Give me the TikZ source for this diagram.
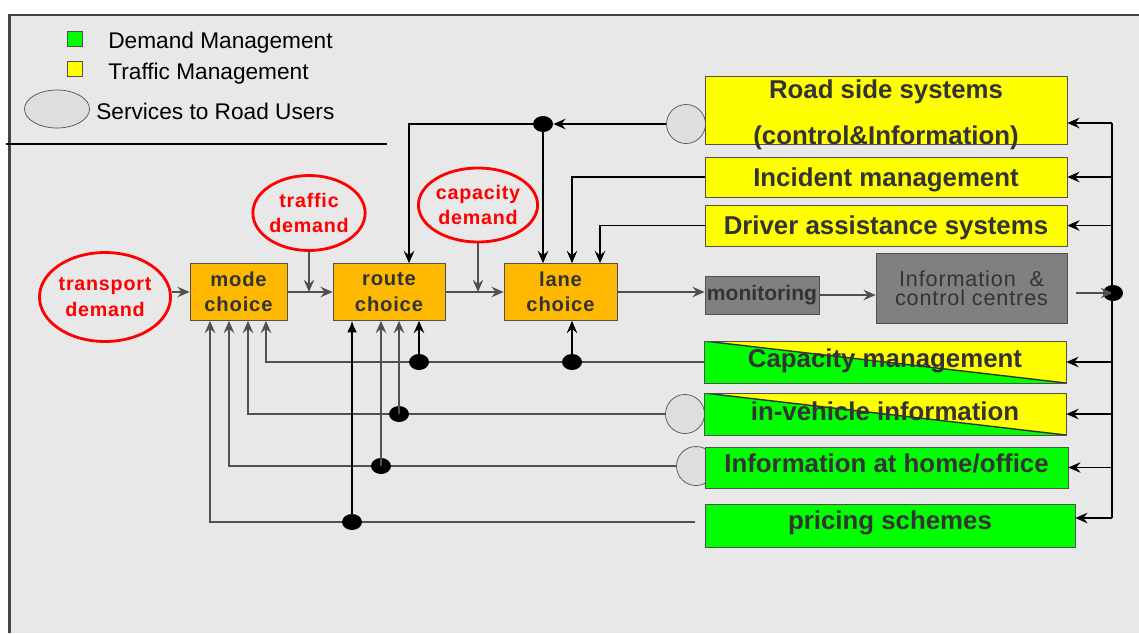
\documentclass[tikz,border=0pt]{standalone}
\usepackage{fontspec}
\setmainfont{Liberation Sans}
\newfontfamily\spacedfont[LetterSpace=4]{Liberation Sans}
\usetikzlibrary{arrows.meta,calc,positioning,shapes.geometric}
\definecolor{bgGray}{HTML}{E8E8E8}
\definecolor{frameGray}{HTML}{444444}
\definecolor{lineGray}{HTML}{505050}
\definecolor{textGray}{HTML}{333333}
\definecolor{choiceOrange}{HTML}{FFB800}
\definecolor{tmYellow}{HTML}{FFFF00}
\definecolor{dmGreen}{HTML}{00FF00}
\definecolor{centreGray}{HTML}{808080}
\definecolor{serviceGray}{HTML}{DEDEDE}

\begin{document}
\begin{tikzpicture}[x=0.02cm,y=-0.02cm,
        arrowLine/.style = {draw=lineGray,line width=0.9pt,-{Stealth[length=7pt,width=6pt,inset=2.5pt]}},
        blackLine/.style = {arrowLine,draw=black},
        solidArrow/.style = {draw=black,line width=0.9pt,-{Latex[length=6.5pt,width=5.5pt]}},
        choiceNode/.style = {draw=lineGray,fill=choiceOrange,text=textGray,align=center,inner sep=0pt,minimum height=1.14cm,font=\spacedfont\bfseries\fontsize{11.5}{14.5}\selectfont},
        demandNode/.style = {ellipse,draw=red,line width=1.6pt,text=red,align=center,inner sep=0pt,font=\spacedfont\bfseries\fontsize{11.2}{14.5}\selectfont},
        yellowNode/.style = {draw=lineGray,fill=tmYellow,text=textGray,inner sep=0pt,minimum width=7.24cm,text height=10.5pt,text depth=0pt,font=\bfseries\fontsize{14.7}{17}\selectfont},
        greenNode/.style = {yellowNode,fill=dmGreen},
        splitNode/.style = {yellowNode,fill=none,path picture={
            \fill[dmGreen] (path picture bounding box.north west) -- (path picture bounding box.south east) -- (path picture bounding box.south west) -- cycle;
            \fill[tmYellow] (path picture bounding box.north west) -- (path picture bounding box.north east) -- (path picture bounding box.south east) -- cycle;
            \draw[textGray,line width=0.8pt] (path picture bounding box.north west) -- (path picture bounding box.south east);}},
        grayNode/.style = {draw=lineGray,fill=centreGray,text=textGray,inner sep=0pt},
        serviceNode/.style = {circle,draw=lineGray,fill=serviceGray,minimum size=0.78cm,inner sep=0pt},
        dotNode/.style = {ellipse,fill=black,minimum width=0.4cm,minimum height=0.32cm,inner sep=0pt},
        keyNode/.style = {draw=lineGray,fill=#1,minimum size=0.3cm,inner sep=0pt},
        keyText/.style = {anchor=west,inner sep=0pt,font=\fontsize{12.9}{15}\selectfont}
        ]
    \useasboundingbox (0,0) rectangle (1139,633);
    \fill[bgGray] (9.5,15) rectangle (1139,633);
    \draw[frameGray,line width=1.7pt] (9.5,633) -- (9.5,15) -- (1139,15);

    \node[keyNode=dmGreen] (dmKey) at (75,39) {};
    \node[keyText] (dmText) at (108,43) {Demand Management};
    \node[keyNode=tmYellow] (tmKey) at (75,69) {};
    \node[keyText] (tmText) at (108,74) {Traffic Management};
    \node[ellipse,draw=lineGray,fill=serviceGray,minimum width=1.3cm,minimum height=0.76cm] (srvKey) at (57,109) {};
    \node[keyText] (srvText) at (96,111) {Services to Road Users};
    \draw[black,line width=0.7pt] (6,144) -- (387,144);

    \node[serviceNode] (rsCircle) at (686,124) {};
    \node[serviceNode] (invCircle) at (685,414) {};
    \node[serviceNode] (homeCircle) at (696,466) {};

    \node[demandNode,minimum width=2.32cm,minimum height=1.78cm] (transport) at (105,297) {transport\\demand};
    \node[demandNode,minimum width=2.12cm,minimum height=1.5cm] (traffic) at (309,213) {traffic\\demand};
    \node[demandNode,minimum width=2.04cm,minimum height=1.48cm] (capacity) at (478,205) {capacity\\demand};
    \node[choiceNode,minimum width=1.94cm] (mode) at (238.5,292) {mode\\choice};
    \node[choiceNode,minimum width=2.24cm] (route) at (389,292) {route\\choice};
    \node[choiceNode,minimum width=2.26cm] (lane) at (560.5,292) {lane\\choice};
    \node[grayNode,minimum width=2.28cm,minimum height=0.76cm,font=\bfseries\fontsize{12}{14}\selectfont] (monitoring) at (762,295) {monitoring};
    \node[grayNode,minimum width=3.82cm,minimum height=1.4cm,align=center,font=\spacedfont\fontsize{12.3}{10.8}\selectfont] (centres) at (971.5,288) {Information \ \&\\control centres};
    \node[dotNode] (busDot) at (1113,293) {};

    \node[yellowNode,minimum height=1.34cm,align=center,text height=39pt,font=\bfseries\fontsize{14.7}{26.6}\selectfont] (roadSide) at (886,110.5) {Road side systems\\(control\&Information)};
    \node[yellowNode,minimum height=0.8cm] (incident) at (886,177) {Incident management};
    \node[yellowNode,minimum height=0.82cm,text depth=-1pt] (driver) at (886,225.5) {Driver assistance systems};
    \node[splitNode,minimum height=0.84cm,text depth=4pt] (capMgmt) at (885,362) {Capacity management};
    \node[splitNode,minimum height=0.84cm,text depth=3pt] (inVehicle) at (885,414) {in-vehicle information};
    \node[greenNode,minimum width=7.26cm,minimum height=0.82cm,text depth=4.5pt] (homeOffice) at (886.5,467.5) {Information at home/office};
    \node[greenNode,minimum width=7.4cm,minimum height=0.86cm,text depth=6pt] (pricing) at (890,525.5) {pricing schemes};

    \coordinate (busTop) at (1112,123);
    \coordinate (busBottom) at (1112,518);
    \coordinate (priceStart) at (695,522);

    \draw[arrowLine] (mode.west -| transport.east) -- (mode.west);
    \draw[arrowLine] (mode.east) -- (route.west);
    \draw[arrowLine] (route.east) -- (lane.west);
    \draw[arrowLine] (traffic.south) -- (traffic.south |- mode.east);
    \draw[arrowLine] (capacity.south) -- (capacity.south |- route.east);
    \draw[arrowLine] (lane.east) -- (lane.east -| monitoring.west);
    \draw[arrowLine] (monitoring.east) -- (monitoring.east -| centres.west);
    \draw[arrowLine] ([xshift=0.18cm]centres.east |- busDot) -- (busDot.center);

    \draw[black,line width=0.9pt] (busTop) -- (busBottom);
    \draw[blackLine] (busTop) -- (busTop -| roadSide.east);
    \foreach \target in {incident,driver,capMgmt,inVehicle,homeOffice}
        \draw[blackLine] (busTop |- \target.east) -- (\target.east);
    \draw[blackLine] (busBottom) -- (busBottom -| pricing.east);

    \node[dotNode] (rsDot) at (543,124) {};
    \draw[blackLine] (rsCircle.west) -- (rsDot);
    \draw[blackLine] (rsDot.center) -| ($(route.north)+(20,0)$);
    \draw[blackLine] (rsDot.center) -- (rsDot |- lane.north);
    \draw[blackLine] (incident.west) -| ($(lane.north)+(11.5,0)$);
    \draw[blackLine] (driver.west) -| ($(lane.north)+(39.5,0)$);

    \draw[arrowLine] (capMgmt.west) -| ($(mode.south)+(27.5,0)$);
    \draw[arrowLine] (invCircle.west) -| ($(mode.south)+(9.5,0)$);
    \draw[arrowLine] (homeCircle.west) -| ($(mode.south)+(-9.5,0)$);
    \draw[arrowLine] (priceStart) -| ($(mode.south)+(-28.5,0)$);

    \node[dotNode] (capDotA) at (419,362) {};
    \node[dotNode] (capDotB) at (572,362) {};
    \node[dotNode] (invDot) at (399,414) {};
    \node[dotNode] (homeDot) at (381,466) {};
    \node[dotNode] (priceDot) at (352,522) {};
    \draw[blackLine] (capDotA.center) -- (capDotA |- route.south);
    \draw[blackLine] (capDotB.center) -- (capDotB |- lane.south);
    \draw[arrowLine] (invDot.center) -- (invDot |- route.south);
    \draw[arrowLine] (homeDot.center) -- (homeDot |- route.south);
    \draw[solidArrow] (priceDot.center) -- (priceDot |- route.south);
\end{tikzpicture}
\end{document}
